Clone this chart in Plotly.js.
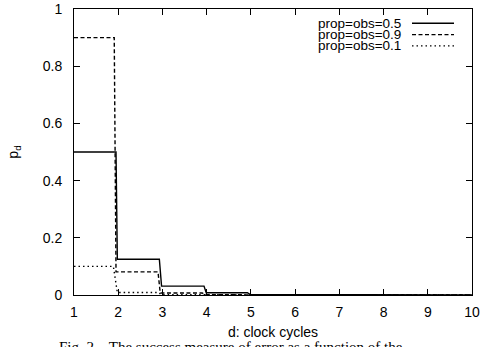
<!DOCTYPE html>
<html>
<head>
<meta charset="utf-8">
<script src="https://cdn.plot.ly/plotly-3.0.1.min.js"></script>
<style>html,body{margin:0;padding:0;background:#fff;}#chart{width:481px;height:347px;}</style>
</head>
<body>
<div id="chart"></div>
<script>
// Step edges (x) and levels (y)
var names = ["prop=obs=0.5", "prop=obs=0.9", "prop=obs=0.1"];
var x05 = [1, 1.95, 1.98, 2.93, 2.98, 3.94, 3.99, 4.92, 4.98, 5.9, 5.98, 10];
var y05 = [0.5, 0.5, 0.125, 0.125, 0.031, 0.031, 0.008, 0.008, 0.002, 0.002, 0.0005, 0.0003];
var x09 = [1, 1.91, 1.95, 2.9, 2.95, 3.9, 3.96, 10];
var y09 = [0.9, 0.9, 0.081, 0.081, 0.007, 0.007, 0.0007, 0.0001];
var x01 = [1, 1.89, 1.98, 2.92, 2.97, 3.9, 3.97, 10];
var y01 = [0.1, 0.1, 0.009, 0.009, 0.0008, 0.0008, 0.0001, 0.00001];
var xTicks = [1, 2, 3, 4, 5, 6, 7, 8, 9, 10];
var yTicks = [0, 0.2, 0.4, 0.6, 0.8, 1];
var yTickText = ["0", "0.2", "0.4", "0.6", "0.8", "1"];
var caption = "Fig. 2.   The success measure of error as a function of the";

var dashes = ["solid", "4px,2.5px", "1.5px,3px"];
var xs = [x05, x09, x01], ys = [y05, y09, y01];
var traces = names.map(function (n, i) {
  return {x: xs[i], y: ys[i], name: n, type: "scatter", mode: "lines",
    line: {color: "#000", width: 1.4, dash: dashes[i]}, showlegend: false, hoverinfo: "skip"};
});

// legend built gnuplot-style: text right-aligned, sample to the right
var shapes = [], annotations = [];
var rowY = [23.3, 34.6, 45.9];      // pixel rows
var W = 398, H = 286, L = 74, T = 9;
function px2x(p) { return (p - L) / W; }
function py2y(p) { return 1 - (p - T) / H; }
names.forEach(function (n, i) {
  annotations.push({xref: "paper", yref: "paper", x: px2x(403), y: py2y(rowY[i]),
    xanchor: "right", yanchor: "middle", text: n, showarrow: false,
    font: {family: "Liberation Sans, Arial, sans-serif", size: 13.5, color: "#000"}});
  shapes.push({type: "line", xref: "paper", yref: "paper",
    x0: px2x(412), x1: px2x(454), y0: py2y(rowY[i]), y1: py2y(rowY[i]),
    line: {color: "#000", width: 1.4, dash: dashes[i]}});
});
annotations.push({xref: "paper", yref: "paper", x: px2x(57), y: py2y(337),
  xanchor: "left", yanchor: "top", text: caption, showarrow: false,
  font: {family: "Liberation Serif, Times New Roman, serif", size: 15, color: "#000"}});

var axisFont = {family: "Liberation Sans, Arial, sans-serif", size: 14, color: "#000"};
var layout = {
  width: 481, height: 347,
  margin: {l: 74, r: 9, t: 9, b: 52, pad: 0},
  paper_bgcolor: "#fff", plot_bgcolor: "#fff",
  font: axisFont,
  xaxis: {range: [1, 10], tickvals: xTicks, ticks: "inside", ticklen: 6, tickwidth: 1,
    tickcolor: "#000", showline: true, linecolor: "#000", linewidth: 1, mirror: "ticks",
    showgrid: false, zeroline: false, tickfont: axisFont, ticklabelstandoff: 4,
    title: {text: "d: clock cycles", font: axisFont, standoff: 8}},
  yaxis: {range: [0, 1], tickvals: yTicks, ticktext: yTickText, ticks: "inside", ticklen: 6, tickwidth: 1,
    tickcolor: "#000", showline: true, linecolor: "#000", linewidth: 1, mirror: "ticks",
    showgrid: false, zeroline: false, tickfont: axisFont, ticklabelstandoff: 8,
    title: {text: "p<sub>d</sub>", font: axisFont, standoff: 20}},
  shapes: shapes,
  annotations: annotations
};
Plotly.newPlot("chart", traces, layout, {displayModeBar: false, staticPlot: true});
</script>
</body>
</html>
